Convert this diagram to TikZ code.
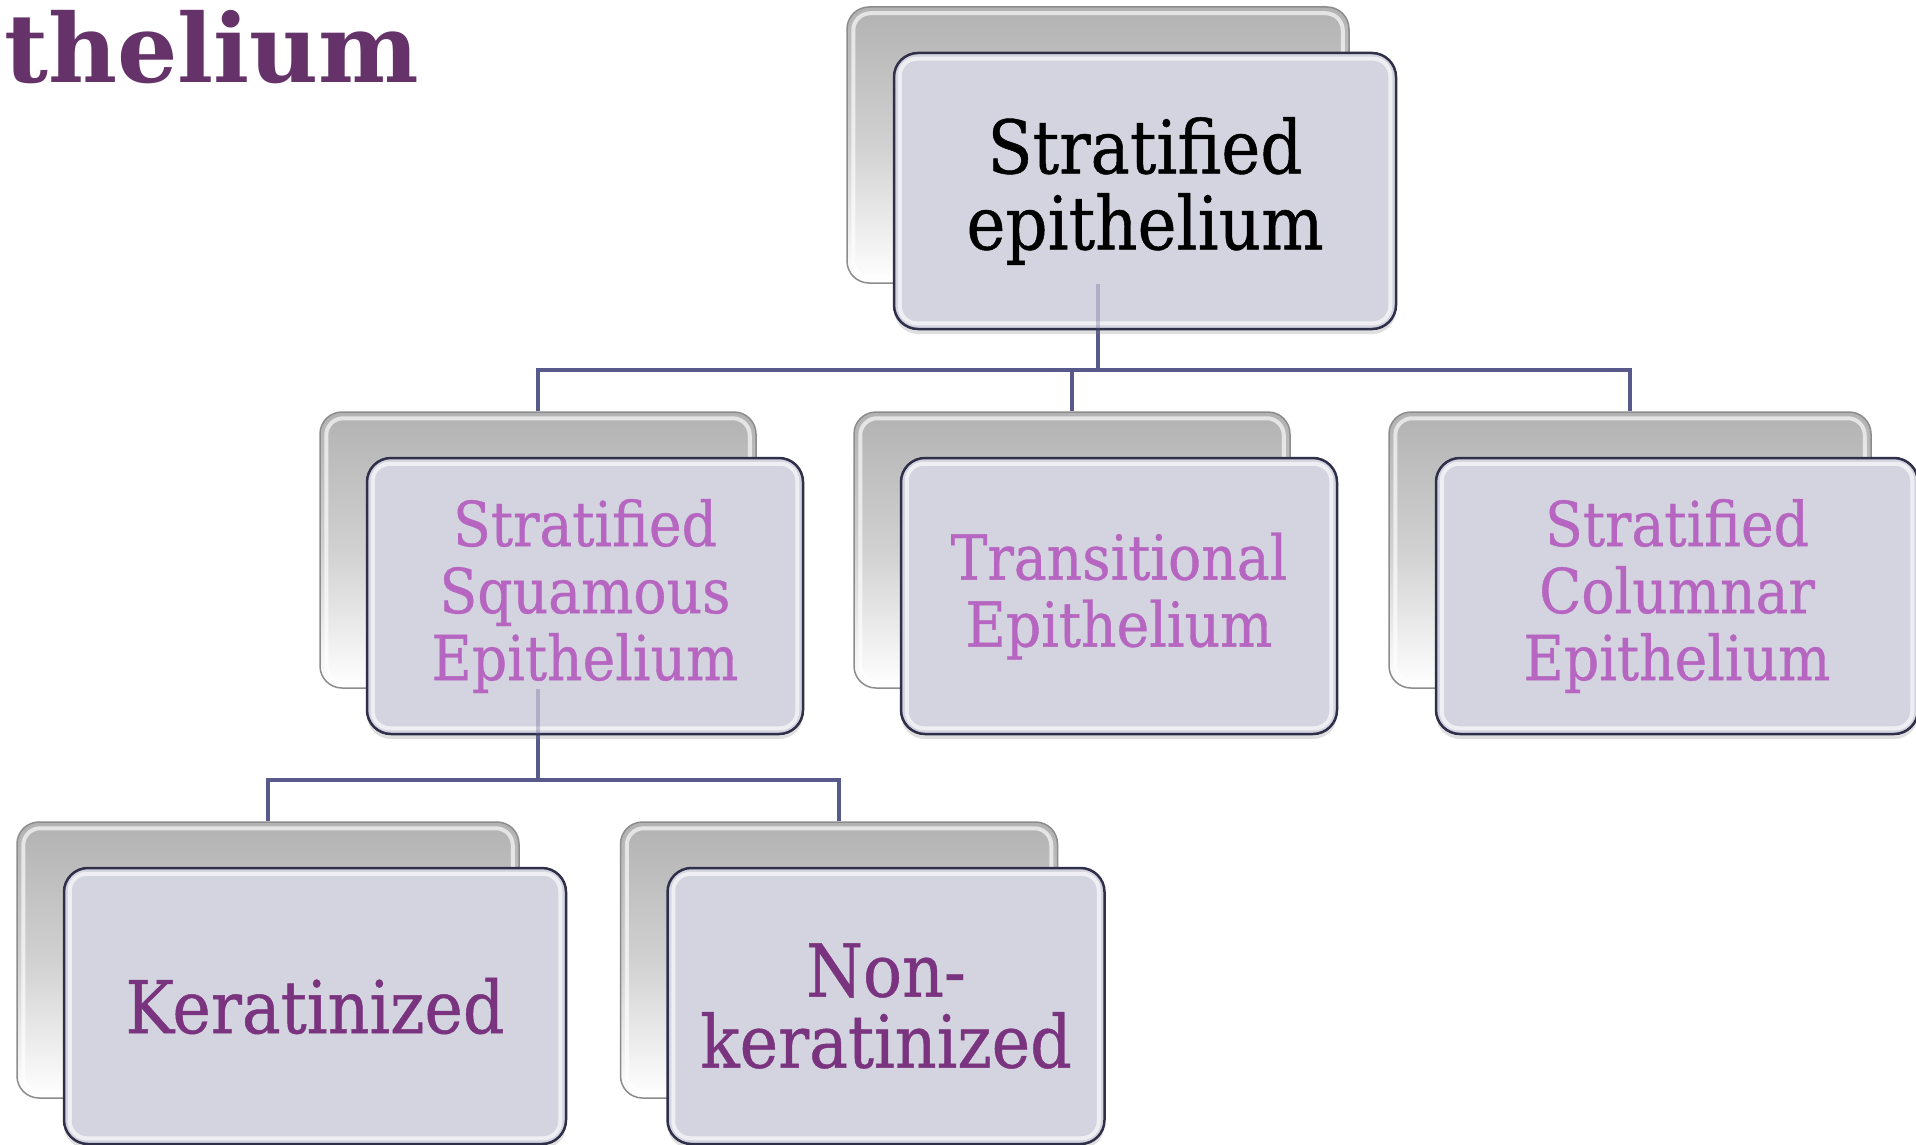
\documentclass[tikz,border=0pt]{standalone}
\usepackage{fontspec}
\setmainfont{DejaVu Serif}[FakeStretch=0.89, FakeBold=0.6]
\newfontfamily\titlefont{DejaVu Serif}[FakeStretch=1.0]
\usetikzlibrary{shadows,calc}
\definecolor{titlecol}{RGB}{101,51,106}
\definecolor{midpurple}{RGB}{182,102,192}
\definecolor{darkpurple}{RGB}{122,51,126}
\definecolor{frontfill}{RGB}{211,212,223}
\definecolor{frontborder}{RGB}{47,47,74}
\definecolor{conncol}{RGB}{88,90,140}
\definecolor{backtop}{RGB}{178,178,178}
\definecolor{backedge}{RGB}{140,140,140}
\pgfdeclarelayer{bg}
\pgfdeclarelayer{bk}
\pgfdeclarelayer{cn}
\pgfsetlayers{bg,bk,cn,main}
\tikzset{
  backcard/.style={draw=backedge, line width=1.5pt, rounded corners=22pt,
    top color=backtop, bottom color=white, middle color=backtop!60!white,
    inner sep=0pt},
  frontcard/.style={draw=frontborder, line width=2.5pt, fill=frontfill,
    rounded corners=24pt, align=center, inner sep=0pt,
    drop shadow={opacity=0.25, shadow xshift=0pt, shadow yshift=-5pt}},
  glossline/.style={draw=white, line width=4pt, opacity=0.65, rounded corners=17pt},
  conn/.style={draw=conncol, line width=4pt},
  toptext/.style={font=\fontsize{74}{76}\selectfont, text=black},
  midtext/.style={font=\fontsize{62}{67}\selectfont, text=midpurple},
  bottext/.style={font=\fontsize{73}{71}\selectfont, text=darkpurple},
}
% name, cx, cy (back card), w, h, text style, text
\newcommand\mycard[7]{%
  \begin{pgfonlayer}{bk}
    \node[backcard, minimum width=#4pt, minimum height=#5pt] (#1B) at (#2,#3) {};
    \draw[glossline] ([shift={(7,7)}]#1B.north west) rectangle ([shift={(-7,-7)}]#1B.south east);
  \end{pgfonlayer}
  \node[frontcard, minimum width=#4pt, minimum height=#5pt, #6] (#1F) at (#2+47,#3+46) {#7};
  \draw[glossline] ([shift={(7,7)}]#1F.north west) rectangle ([shift={(-7,-7)}]#1F.south east);
}
\begin{document}
\begin{tikzpicture}[x=1pt, y=-1pt]
\useasboundingbox (0,0) rectangle (1916,1145);
\begin{pgfonlayer}{bg}
  \fill[white] (0,0) rectangle (1916,1145);
\end{pgfonlayer}

\node[anchor=base west, inner sep=0pt, text=titlecol,
  font=\fontsize{95}{95}\titlefont\bfseries\selectfont] (title) at (4,83) {thelium};

\mycard{top}{1098}{145}{502}{276}{toptext}{Stratified\\epithelium}
\mycard{sq}{538}{550}{436}{276}{midtext}{Stratified\\Squamous\\Epithelium}
\mycard{tr}{1072}{550}{436}{276}{midtext}{Transitional\\Epithelium}
\mycard{co}{1630}{550}{482}{276}{midtext}{Stratified\\Columnar\\Epithelium}
\mycard{ke}{268}{960}{502}{276}{bottext}{Keratinized}
\mycard{nk}{839}{960}{437}{276}{bottext}{Non-\\keratinized}

\begin{pgfonlayer}{cn}
  \coordinate (j1) at (1098,370);
  \coordinate (j2) at (538,780);
  \draw[conn] (topB.south) -- (j1);
  \draw[conn] (j1) -| (sqB.north);
  \draw[conn] (j1) -| (trB.north);
  \draw[conn] (j1) -| (coB.north);
  \draw[conn] (sqB.south) -- (j2);
  \draw[conn] (j2) -| (keB.north);
  \draw[conn] (j2) -| (nkB.north);
\end{pgfonlayer}
% faint connector segments seen through the front cards
\draw[conn, opacity=0.3] (topB.south) -- (topB.south |- topF.south);
\draw[conn, opacity=0.3] (sqB.south) -- (sqB.south |- sqF.south);
\end{tikzpicture}
\end{document}
